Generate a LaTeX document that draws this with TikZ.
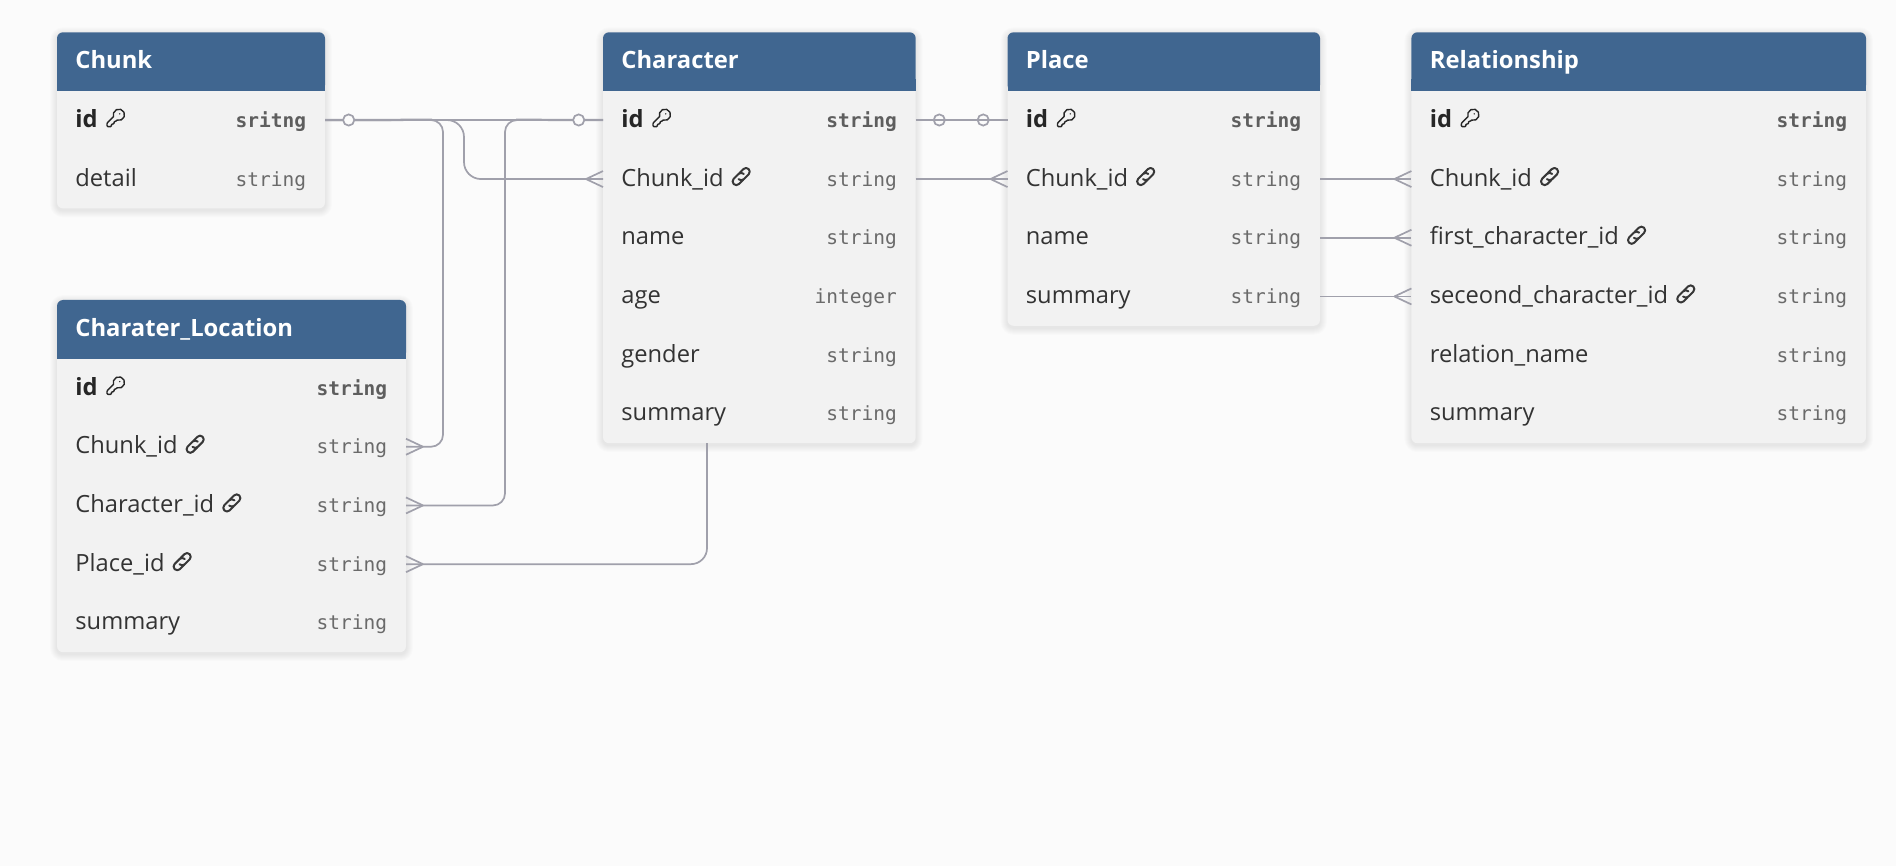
\documentclass[tikz,border=0pt]{standalone}
\usepackage{fontspec}
\setmainfont{Open Sans}
\newfontfamily\monof{DejaVu Sans Mono}
\definecolor{pagebg}{HTML}{FBFBFB}
\definecolor{bodybg}{HTML}{F2F2F2}
\definecolor{headbg}{HTML}{406690}
\definecolor{wire}{HTML}{A0A0AB}
\definecolor{labelc}{HTML}{333333}
\definecolor{boldc}{HTML}{262626}
\definecolor{typec}{HTML}{6A6A6A}
\definecolor{btypec}{HTML}{5E5E5E}
\tikzset{
  tablebody/.style={fill=bodybg,rounded corners=3pt,inner sep=0pt,outer sep=0pt},
  headtext/.style={anchor=base west,inner sep=0pt,text=white,font=\fontsize{11.9pt}{14pt}\selectfont\bfseries},
  rowbox/.style={inner sep=0pt,outer sep=0pt,minimum height=29.35pt},
  labeltext/.style={anchor=base west,inner sep=0pt,text=labelc,font=\fontsize{11.85pt}{14pt}\selectfont},
  pklabel/.style={anchor=base west,inner sep=0pt,text=boldc,font=\fontsize{11.85pt}{14pt}\selectfont\bfseries},
  typetext/.style={anchor=base east,inner sep=0pt,text=typec,font=\fontsize{9.75pt}{12pt}\selectfont\monof},
  pktype/.style={anchor=base east,inner sep=0pt,text=btypec,font=\fontsize{9.75pt}{12pt}\selectfont\monof\bfseries},
  wireline/.style={draw=wire,line width=.85pt},
  zerocirc/.style={circle,draw=wire,fill=pagebg,line width=.85pt,minimum size=5.6pt,inner sep=0pt},
}
% table: name, left, right, top, rows, title
\newcommand{\ertable}[6]{%
  \pgfmathsetmacro{\TL}{#2}\pgfmathsetmacro{\TR}{#3}%
  \pgfmathsetmacro{\TH}{#4+58.7}%
  \pgfmathsetmacro{\TB}{\TH+58.7*#5}%
  \pgfmathsetmacro{\TW}{(#3-#2)*.5}%
  \pgfmathsetmacro{\THT}{(\TB-#4)*.5}%
  \foreach \s in {1,...,7}{%
    \fill[black,fill opacity=.010,rounded corners=3pt+.5*\s pt] (#2-\s,#4-\s+2) rectangle (#3+\s,\TB+\s+2);}%
  \node[tablebody,minimum width=\TW pt,minimum height=\THT pt] (#1) at ({(#2+#3)/2},{(#4+\TB)/2}) {};%
  \fill[headbg,rounded corners=3pt] (#2,\TH) -- (#2,#4) -- (#3,#4) -- (#3,\TH) -- cycle;%
  \fill[headbg] (#2,\TH-12) rectangle (#3,\TH);%
  \node[headtext] (#1-title) at (#2+18,#4+36) {#6};%
}
% field: name, row number, label style, label, type style, type
\newcommand{\erfield}[6]{%
  \pgfmathsetmacro{\RY}{\TH+58.7*(#2-.5)}%
  \node[rowbox,minimum width=\TW pt] (#1) at ({(\TL+\TR)/2},\RY) {};%
  \node[#3] (#1-label) at (\TL+18,\RY+7) {#4};%
  \node[#5] (#1-type) at (\TR-18.5,\RY+7) {#6};%
}
\newcommand{\keyicon}[1]{%
  \begin{scope}[shift={(#1-label.base east)},xshift=8.9pt,yshift=4.75pt,x=.44pt,y=-.44pt,shift={(-12,-12)},line width=.7pt,line join=round,draw=boldc]
    \draw (2.586,17.414) .. controls (2.2,17.8) and (2,18.3) .. (2,18.828) -- (2,21)
      .. controls (2,21.55) and (2.45,22) .. (3,22) -- (6,22)
      .. controls (6.55,22) and (7,21.55) .. (7,21) -- (7,20)
      .. controls (7,19.45) and (7.45,19) .. (8,19) -- (9,19)
      .. controls (9.55,19) and (10,18.55) .. (10,18) -- (10,17)
      .. controls (10,16.45) and (10.45,16) .. (11,16) -- (11.172,16)
      .. controls (11.7,16) and (12.2,15.8) .. (12.586,15.414) -- (13.4,14.6)
      arc (109:-199:6.45) -- cycle;
    \fill[boldc] (16.5,7.5) circle (.9);
  \end{scope}}
\newcommand{\linkicon}[1]{%
  \begin{scope}[shift={(#1-label.base east)},xshift=8.6pt,yshift=4.75pt,x=.5pt,y=.5pt,rotate=45,line width=1pt,line cap=round,line join=round,draw=boldc!92!white]
    \draw (-1,-3.7) -- (-6.9,-3.7) arc (270:90:3.7) -- (0,3.7) arc (90:0:3.7);
    \draw (1,3.7) -- (6.9,3.7) arc (90:-90:3.7) -- (0,-3.7) arc (270:180:3.7);
  \end{scope}}
\newcommand{\crowleft}[1]{%
  \draw[wireline] ([xshift=-8.5pt]#1) -- ([yshift=4pt]#1) ([xshift=-8.5pt]#1) -- ([yshift=-4pt]#1);}
\newcommand{\crowright}[1]{%
  \draw[wireline] ([xshift=8.5pt]#1) -- ([yshift=4pt]#1) ([xshift=8.5pt]#1) -- ([yshift=-4pt]#1);}
\begin{document}
\begin{tikzpicture}[x=.5pt,y=-.5pt]
\useasboundingbox (0,0) rectangle (1896,866);
\fill[pagebg] (0,0) rectangle (1896,866);

\ertable{chunk}{57}{325}{32.3}{2}{Chunk}
\erfield{chunk-id}{1}{pklabel}{id}{pktype}{sritng}
\erfield{chunk-detail}{2}{labeltext}{detail}{typetext}{string}
\keyicon{chunk-id}

\ertable{loc}{57}{406}{300}{5}{Charater\_Location}
\erfield{loc-id}{1}{pklabel}{id}{pktype}{string}
\erfield{loc-chunk}{2}{labeltext}{Chunk\_id}{typetext}{string}
\erfield{loc-char}{3}{labeltext}{Character\_id}{typetext}{string}
\erfield{loc-place}{4}{labeltext}{Place\_id}{typetext}{string}
\erfield{loc-summary}{5}{labeltext}{summary}{typetext}{string}
\keyicon{loc-id}\linkicon{loc-chunk}\linkicon{loc-char}\linkicon{loc-place}

\ertable{character}{603}{915.7}{32.3}{6}{Character}
\erfield{char-id}{1}{pklabel}{id}{pktype}{string}
\erfield{char-chunk}{2}{labeltext}{Chunk\_id}{typetext}{string}
\erfield{char-name}{3}{labeltext}{name}{typetext}{string}
\erfield{char-age}{4}{labeltext}{age}{typetext}{integer}
\erfield{char-gender}{5}{labeltext}{gender}{typetext}{string}
\erfield{char-summary}{6}{labeltext}{summary}{typetext}{string}
\keyicon{char-id}\linkicon{char-chunk}

\ertable{place}{1007.5}{1320}{32.3}{4}{Place}
\erfield{place-id}{1}{pklabel}{id}{pktype}{string}
\erfield{place-chunk}{2}{labeltext}{Chunk\_id}{typetext}{string}
\erfield{place-name}{3}{labeltext}{name}{typetext}{string}
\erfield{place-summary}{4}{labeltext}{summary}{typetext}{string}
\keyicon{place-id}\linkicon{place-chunk}

\ertable{rel}{1411.4}{1866}{32.3}{6}{Relationship}
\erfield{rel-id}{1}{pklabel}{id}{pktype}{string}
\erfield{rel-chunk}{2}{labeltext}{Chunk\_id}{typetext}{string}
\erfield{rel-first}{3}{labeltext}{first\_character\_id}{typetext}{string}
\erfield{rel-second}{4}{labeltext}{seceond\_character\_id}{typetext}{string}
\erfield{rel-name}{5}{labeltext}{relation\_name}{typetext}{string}
\erfield{rel-summary}{6}{labeltext}{summary}{typetext}{string}
\keyicon{rel-id}\linkicon{rel-chunk}\linkicon{rel-first}\linkicon{rel-second}

% connectors
\coordinate (va) at (443,120);
\coordinate (vb) at (464,120);
\coordinate (vc) at (505,120);
\coordinate (under) at (707,443);
\draw[wireline] ([yshift=.25pt]chunk-id.east) -- (432,119.5);
\draw[wireline,rounded corners=6pt] (chunk-id.east) -- (va) -- (va|-loc-chunk.east) -- (loc-chunk.east);
\draw[wireline,rounded corners=8.5pt] (chunk-id.east) -- (vb) -- (vb|-char-chunk.west) -- (char-chunk.west);
\draw[wireline,rounded corners=6pt] (char-id.west) -- (vc) -- (vc|-loc-char.east) -- (loc-char.east);
\draw[wireline] ([yshift=.25pt]char-id.west) -- (516,119.5);
\draw[wireline] (chunk-id.east) -- (char-id.west);
\draw[wireline,rounded corners=8pt] (under) -- (under|-loc-place.east) -- (loc-place.east);
\crowright{loc-chunk.east}\crowright{loc-char.east}\crowright{loc-place.east}
\crowleft{char-chunk.west}
\node[zerocirc] (c1) at (348.7,120) {};
\node[zerocirc] (c2) at (578.7,120) {};

\node[zerocirc] (c3) at (939.3,120) {};
\node[zerocirc] (c4) at (983.2,120) {};
\draw[wire,line width=1.15pt] (char-id.east) -- (place-id.west);

\draw[wireline] (char-chunk.east) -- (place-chunk.west);
\crowleft{place-chunk.west}
\draw[wireline] (place-chunk.east) -- (rel-chunk.west);
\crowleft{rel-chunk.west}
\draw[wireline] (place-name.east) -- (rel-first.west);
\crowleft{rel-first.west}
\draw[wireline] (place-summary.east) -- (rel-second.west);
\crowleft{rel-second.west}
\end{tikzpicture}
\end{document}
